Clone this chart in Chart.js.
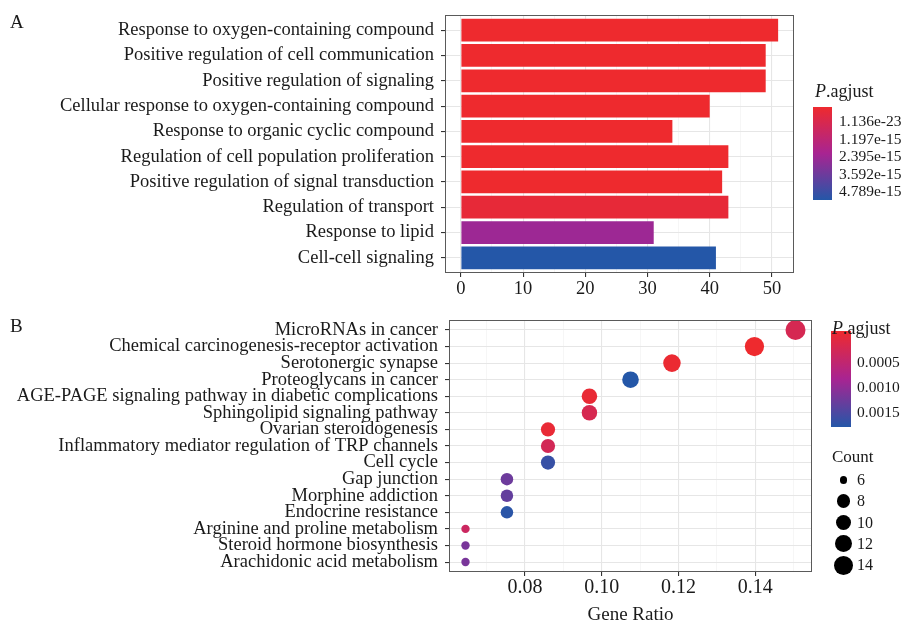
<!DOCTYPE html>
<html>
<head>
<meta charset="utf-8">
<script src="https://cdn.jsdelivr.net/npm/chart.js@4.4.1/dist/chart.umd.min.js"></script>
<style>
body { margin: 0; background: #fff; }
#wrap { position: relative; width: 904px; height: 622px; overflow: hidden; font-family: "Liberation Serif", "Times New Roman", serif; color: #1a1a1a; }
#wrap canvas { position: absolute; left: 0; }
.txt { position: absolute; white-space: nowrap; }
.bar { position: absolute; background: linear-gradient(to bottom, rgb(238,42,46), rgb(168,36,146), rgb(36,87,168)); }
.dot { position: absolute; background: #000; border-radius: 50%; }
</style>
</head>
<body>
<div id="wrap">
  <canvas id="chartA" width="904" height="310" style="top:0"></canvas>
  <canvas id="chartB" width="904" height="312" style="top:310px"></canvas>
</div>
<script>
// Panel A - GO terms
const goTerms = [
    "Response to oxygen-containing compound",
    "Positive regulation of cell communication",
    "Positive regulation of signaling",
    "Cellular response to oxygen-containing compound",
    "Response to organic cyclic compound",
    "Regulation of cell population proliferation",
    "Positive regulation of signal transduction",
    "Regulation of transport",
    "Response to lipid",
    "Cell-cell signaling"
];
const goCounts = [51, 49, 49, 40, 34, 43, 42, 43, 31, 41];
const goPadj = [1.136e-23, 2.1e-21, 2.9e-21, 6.4e-20, 3.3e-19, 1.2e-18, 5.6e-18, 2.4e-16, 2.59e-15, 4.789e-15];
const goTicks = [0, 5, 10, 15, 20, 25, 30, 35, 40, 45, 50];
const goTickLabels = ["0", "10", "20", "30", "40", "50"];
const goLegendLabels = ["1.136e-23", "1.197e-15", "2.395e-15", "3.592e-15", "4.789e-15"];

// Panel B - KEGG pathways
const keggTerms = [
    "MicroRNAs in cancer",
    "Chemical carcinogenesis-receptor activation",
    "Serotonergic synapse",
    "Proteoglycans in cancer",
    "AGE-PAGE signaling pathway in diabetic complications",
    "Sphingolipid signaling pathway",
    "Ovarian steroidogenesis",
    "Inflammatory mediator regulation of TRP channels",
    "Cell cycle",
    "Gap junction",
    "Morphine addiction",
    "Endocrine resistance",
    "Arginine and proline metabolism",
    "Steroid hormone biosynthesis",
    "Arachidonic acid metabolism"
];
const keggRatio = [0.1505, 0.1398, 0.1183, 0.1075, 0.0968, 0.0968, 0.0860, 0.0860, 0.0860, 0.0753, 0.0753, 0.0753, 0.0645, 0.0645, 0.0645];
const keggCounts = [14, 13, 11, 10, 9, 9, 8, 8, 8, 7, 7, 7, 6, 6, 6];
const keggPadj = [0.00034, 0.00001, 0.00005, 0.00185, 0.00007, 0.00032, 0.00008, 0.00038, 0.00172, 0.00134, 0.00141, 0.00181, 0.00047, 0.00126, 0.00126];
const keggTicks = [0.07, 0.08, 0.09, 0.10, 0.11, 0.12, 0.13, 0.14, 0.15];
const keggTickLabels = ["0.08", "0.10", "0.12", "0.14"];
const keggLegendLabels = ["0.0005", "0.0010", "0.0015"];
const countLegend = [6, 8, 10, 12, 14];

const FONT = "Liberation Serif";
const INK = "#1a1a1a";
const RAMP = [[238, 42, 46], [168, 36, 146], [36, 87, 168]];

// Helpers
function rampColor(f) {
    f = Math.max(0, Math.min(1, f));
    const seg = f < 0.5 ? 0 : 1;
    const t = f < 0.5 ? f * 2 : (f - 0.5) * 2;
    const a = RAMP[seg], b = RAMP[seg + 1];
    return "rgb(" + a.map((v, i) => Math.round(v + (b[i] - v) * t)).join(",") + ")";
}
function scaleColors(vals) {
    const lo = Math.min(...vals), hi = Math.max(...vals);
    return vals.map(v => rampColor((v - lo) / (hi - lo)));
}
function dotRadius(c) {
    const lo = countLegend[0], hi = countLegend[countLegend.length - 1];
    return 4.2 + 5.8 * Math.sqrt((c - lo) / (hi - lo));
}

const panelBorder = {
    id: "panelBorder",
    afterDatasetsDraw(chart) {
        const a = chart.chartArea, c = chart.ctx;
        c.save();
        c.strokeStyle = "#5a5a5a";
        c.lineWidth = 1;
        c.strokeRect(a.left + 0.5, a.top + 0.5, a.right - a.left - 1, a.bottom - a.top - 1);
        c.restore();
    }
};

function gridOpts(isMajor) {
    return {
        offset: false,
        color: ctx => isMajor(ctx.tick) ? "#e6e6e6" : "#f2f2f2",
        lineWidth: ctx => isMajor(ctx.tick) ? 1.1 : 0.7,
        tickColor: ctx => isMajor(ctx.tick) ? "#333" : "rgba(0,0,0,0)",
        tickLength: 4
    };
}
// fixed axis sizes, no label overhang padding
function fixX(h) {
    return s => { s.height = h; s.paddingLeft = 0; s.paddingRight = 0; };
}
function fixY(w) {
    return s => { s.width = w; s.paddingTop = 0; s.paddingBottom = 0; };
}

// Chart A
new Chart(document.getElementById("chartA"), {
    type: "bar",
    data: {
        datasets: [{
            data: goCounts.map((v, i) => ({ x: v, y: i })),
            backgroundColor: scaleColors(goPadj),
            borderWidth: 0,
            categoryPercentage: 1,
            barPercentage: 0.9
        }]
    },
    options: {
        indexAxis: "y",
        responsive: false,
        animation: false,
        devicePixelRatio: 1,
        layout: { padding: { left: 0, right: 110, top: 15, bottom: 0 } },
        plugins: { legend: { display: false }, tooltip: { enabled: false } },
        scales: {
            x: {
                type: "linear",
                min: -2.55, max: 53.55,
                afterBuildTicks: s => { s.ticks = goTicks.map(v => ({ value: v })); },
                afterFit: fixX(37),
                border: { display: false },
                grid: gridOpts(t => goTickLabels.includes(String(t.value))),
                ticks: {
                    autoSkip: false, maxRotation: 0, padding: 1,
                    color: INK, font: { family: FONT, size: 18.5 },
                    callback: v => goTickLabels.includes(String(v)) ? String(v) : ""
                }
            },
            y: {
                type: "linear",
                offset: false,
                reverse: true,
                min: -0.6, max: goTerms.length - 0.4,
                afterBuildTicks: s => { s.ticks = goTerms.map((_, i) => ({ value: i })); },
                afterFit: fixY(445),
                border: { display: false },
                grid: gridOpts(() => true),
                ticks: {
                    autoSkip: false, padding: 7,
                    color: INK, font: { family: FONT, size: 18.5 },
                    callback: v => goTerms[v]
                }
            }
        }
    },
    plugins: [panelBorder]
});

// Chart B
const keggMajor = t => keggTickLabels.includes(t.value.toFixed(2));
new Chart(document.getElementById("chartB"), {
    type: "scatter",
    data: {
        datasets: [{
            data: keggRatio.map((v, i) => ({ x: v, y: i })),
            backgroundColor: scaleColors(keggPadj),
            borderWidth: 0,
            pointRadius: ctx => dotRadius(keggCounts[ctx.dataIndex]),
            pointHoverRadius: ctx => dotRadius(keggCounts[ctx.dataIndex])
        }]
    },
    options: {
        responsive: false,
        animation: false,
        devicePixelRatio: 1,
        layout: { padding: { left: 0, right: 92, top: 9, bottom: 0 } },
        plugins: { legend: { display: false }, tooltip: { enabled: false } },
        scales: {
            x: {
                type: "linear",
                min: 0.0602, max: 0.1548,
                afterBuildTicks: s => { s.ticks = keggTicks.map(v => ({ value: v })); },
                afterFit: fixX(50),
                border: { display: false },
                grid: gridOpts(keggMajor),
                ticks: {
                    autoSkip: false, maxRotation: 0, padding: 0,
                    color: INK, font: { family: FONT, size: 20 },
                    callback: v => keggTickLabels.includes(v.toFixed(2)) ? v.toFixed(2) : ""
                },
                title: {
                    display: true, text: "Gene Ratio", color: INK,
                    font: { family: FONT, size: 19, lineHeight: 1 },
                    padding: { top: 0, bottom: -3 }
                }
            },
            y: {
                type: "linear",
                reverse: true,
                min: -0.6, max: keggTerms.length - 0.4,
                afterBuildTicks: s => { s.ticks = keggTerms.map((_, i) => ({ value: i })); },
                afterFit: fixY(449),
                border: { display: false },
                grid: gridOpts(() => true),
                ticks: {
                    autoSkip: false, padding: 7,
                    color: INK, font: { family: FONT, size: 18.5 },
                    callback: v => keggTerms[v]
                }
            }
        }
    },
    plugins: [panelBorder]
});

// Legends and panel letters
const wrap = document.getElementById("wrap");
function addText(html, x, yc, size, lh) {
    const d = document.createElement("div");
    d.className = "txt";
    d.innerHTML = html;
    d.style.left = x + "px";
    d.style.top = (yc - lh / 2) + "px";
    d.style.fontSize = size + "px";
    d.style.lineHeight = lh + "px";
    wrap.appendChild(d);
}
function addBox(cls, x, y, w, h) {
    const d = document.createElement("div");
    d.className = cls;
    Object.assign(d.style, { left: x + "px", top: y + "px", width: w + "px", height: h + "px" });
    wrap.appendChild(d);
}

addText("A", 10, 22, 19, 22);
addText("B", 10, 326, 19, 22);

// legend A
addText("<i>P</i>.agjust", 815, 91, 18, 20);
addBox("bar", 813, 107, 19, 93);
const legA_y = [121, 138.5, 156, 173.5, 191];
goLegendLabels.forEach((t, i) => addText(t, 839, legA_y[i], 15.5, 18));

// legend B
addBox("bar", 831, 331, 20, 96);
addText("<i>P</i>.agjust", 832, 328, 18, 20);
const legB_y = [362, 386.5, 411.5];
keggLegendLabels.forEach((t, i) => addText(t, 857, legB_y[i], 15.5, 18));

addText("Count", 832, 457, 17, 20);
const cntY = [480, 501, 522.5, 543.5, 565];
countLegend.forEach((c, i) => {
    const r = dotRadius(c) * 0.95;
    addBox("dot", 843.5 - r, cntY[i] - r, 2 * r, 2 * r);
    addText(String(c), 857, cntY[i], 16, 18);
});
</script>
</body>
</html>
